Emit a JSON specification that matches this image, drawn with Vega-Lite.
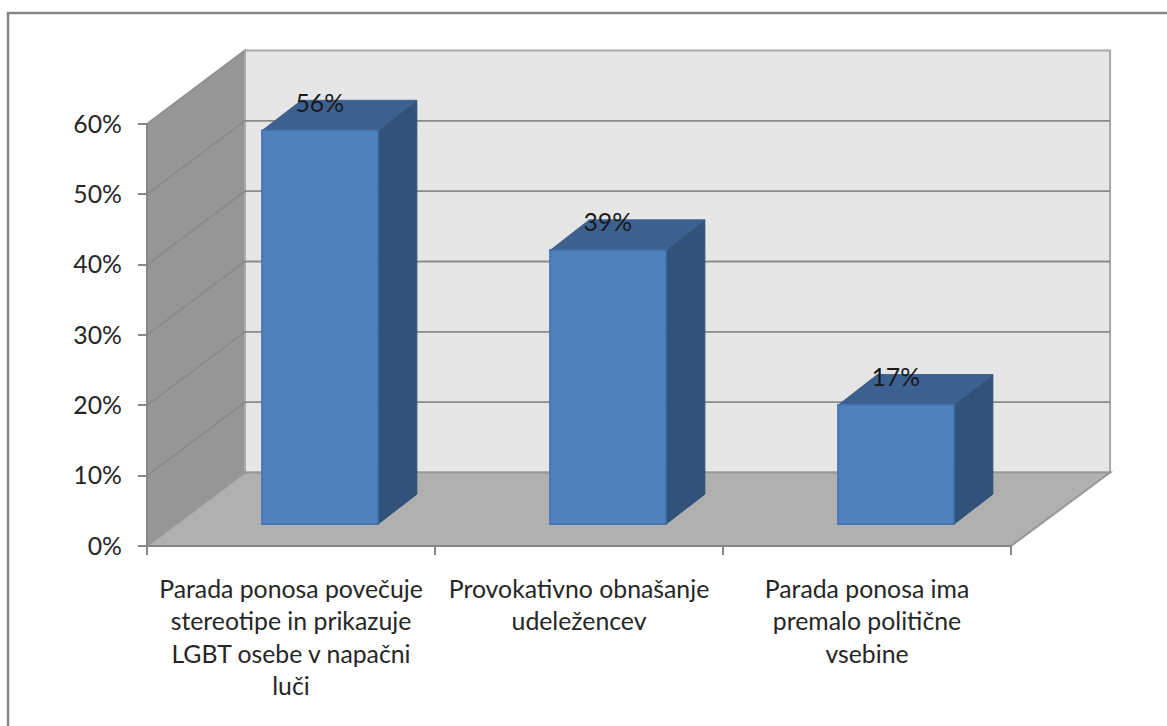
{"$schema":"https://vega.github.io/schema/vega-lite/v6.json","width":864,"height":422,"autosize":"none","padding":{"left":147,"top":124,"right":156,"bottom":180},"background":"white",
"config":{"view":{"stroke":null},"text":{"font":"Lato"}},
"datasets":{
"bars":[{"category":"Parada ponosa povečuje\nstereotipe in prikazuje\nLGBT osebe v napačni\nluči","value":0.56,"center":0.5,"left":0.399,"right":0.802,"mid":0.6,"base":0.031,"top":0.591},
{"category":"Provokativno obnašanje\nudeležencev","value":0.39,"center":1.5,"left":1.399,"right":1.802,"mid":1.6,"base":0.031,"top":0.421},
{"category":"Parada ponosa ima\npremalo politične\nvsebine","value":0.17,"center":2.5,"left":2.399,"right":2.802,"mid":2.6,"base":0.031,"top":0.201}],
"walls":[
{"part":"left","i":0,"x":0,"y":0},{"part":"left","i":1,"x":0.34,"y":0.1045},{"part":"left","i":2,"x":0.34,"y":0.7045},{"part":"left","i":3,"x":0,"y":0.6},{"part":"left","i":4,"x":0,"y":0},
{"part":"back","i":0,"x":0.34,"y":0.1045},{"part":"back","i":1,"x":3.344,"y":0.1045},{"part":"back","i":2,"x":3.344,"y":0.7045},{"part":"back","i":3,"x":0.34,"y":0.7045},{"part":"back","i":4,"x":0.34,"y":0.1045},
{"part":"floor","i":0,"x":0,"y":0},{"part":"floor","i":1,"x":3,"y":0},{"part":"floor","i":2,"x":3.344,"y":0.1045},{"part":"floor","i":3,"x":0.34,"y":0.1045},{"part":"floor","i":4,"x":0,"y":0}],
"grid":[
{"v":"10","i":0,"x":0,"y":0.1},{"v":"10","i":1,"x":0.34,"y":0.2045},{"v":"10","i":2,"x":3.344,"y":0.2045},
{"v":"20","i":0,"x":0,"y":0.2},{"v":"20","i":1,"x":0.34,"y":0.3045},{"v":"20","i":2,"x":3.344,"y":0.3045},
{"v":"30","i":0,"x":0,"y":0.3},{"v":"30","i":1,"x":0.34,"y":0.4045},{"v":"30","i":2,"x":3.344,"y":0.4045},
{"v":"40","i":0,"x":0,"y":0.4},{"v":"40","i":1,"x":0.34,"y":0.5045},{"v":"40","i":2,"x":3.344,"y":0.5045},
{"v":"50","i":0,"x":0,"y":0.5},{"v":"50","i":1,"x":0.34,"y":0.6045},{"v":"50","i":2,"x":3.344,"y":0.6045}],
"faces":[
{"face":"side1","part":"side","i":0,"x":0.802,"y":0.031},{"face":"side1","part":"side","i":1,"x":0.937,"y":0.0737},{"face":"side1","part":"side","i":2,"x":0.937,"y":0.6337},{"face":"side1","part":"side","i":3,"x":0.802,"y":0.591},
{"face":"top1","part":"top","i":0,"x":0.399,"y":0.591},{"face":"top1","part":"top","i":1,"x":0.802,"y":0.591},{"face":"top1","part":"top","i":2,"x":0.937,"y":0.6337},{"face":"top1","part":"top","i":3,"x":0.534,"y":0.6337},
{"face":"side2","part":"side","i":0,"x":1.802,"y":0.031},{"face":"side2","part":"side","i":1,"x":1.937,"y":0.0737},{"face":"side2","part":"side","i":2,"x":1.937,"y":0.4637},{"face":"side2","part":"side","i":3,"x":1.802,"y":0.421},
{"face":"top2","part":"top","i":0,"x":1.399,"y":0.421},{"face":"top2","part":"top","i":1,"x":1.802,"y":0.421},{"face":"top2","part":"top","i":2,"x":1.937,"y":0.4637},{"face":"top2","part":"top","i":3,"x":1.534,"y":0.4637},
{"face":"side3","part":"side","i":0,"x":2.802,"y":0.031},{"face":"side3","part":"side","i":1,"x":2.937,"y":0.0737},{"face":"side3","part":"side","i":2,"x":2.937,"y":0.2437},{"face":"side3","part":"side","i":3,"x":2.802,"y":0.201},
{"face":"top3","part":"top","i":0,"x":2.399,"y":0.201},{"face":"top3","part":"top","i":1,"x":2.802,"y":0.201},{"face":"top3","part":"top","i":2,"x":2.937,"y":0.2437},{"face":"top3","part":"top","i":3,"x":2.534,"y":0.2437}],
"frame":[{"i":0,"x":-0.4826,"y":-0.256},{"i":1,"x":-0.4826,"y":0.7578},{"i":2,"x":3.542,"y":0.7578}]
},
"layer":[
{"data":{"name":"walls"},"mark":{"type":"line","strokeWidth":2},"encoding":{
"x":{"field":"x","type":"quantitative","scale":{"domain":[0,3],"nice":false,"zero":false},"axis":{"values":[0,1,2,3],"labels":false,"title":null,"grid":false,"tickSize":9,"tickWidth":2,"tickColor":"#868686","domainColor":"#868686","domainWidth":2,"zindex":1,"translate":0}},
"y":{"field":"y","type":"quantitative","scale":{"domain":[0,0.6],"nice":false,"zero":false},"axis":{"values":[0,0.1,0.2,0.3,0.4,0.5,0.6],"format":".0%","title":null,"grid":false,"tickSize":9,"tickWidth":2,"tickColor":"#868686","domainColor":"#868686","domainWidth":2,"labelFont":"Lato","labelFontSize":24.8,"labelColor":"#262626","labelPadding":16,"labelOffset":1.5,"zindex":1,"translate":0}},
"order":{"field":"i","type":"quantitative"},
"fill":{"field":"part","type":"nominal","scale":{"domain":["left","back","floor","side","top"],"range":["#969696","#e6e6e6","#b0b0b0","#315279","#3c6190"]},"legend":null},
"stroke":{"field":"part","type":"nominal","scale":{"domain":["left","back","floor","side","top"],"range":["#909090","#a8a8a8","#989898","#315279","#3c6190"]},"legend":null}}},
{"data":{"name":"grid"},"mark":{"type":"line","strokeWidth":1.8,"stroke":"#8a8a8a"},"encoding":{"x":{"field":"x","type":"quantitative"},"y":{"field":"y","type":"quantitative"},"order":{"field":"i","type":"quantitative"},"detail":{"field":"v"}}},
{"data":{"name":"faces"},"mark":{"type":"line","strokeWidth":1},"encoding":{"x":{"field":"x","type":"quantitative"},"y":{"field":"y","type":"quantitative"},"order":{"field":"i","type":"quantitative"},"detail":{"field":"face"},
"fill":{"field":"part","type":"nominal","legend":null},
"stroke":{"field":"part","type":"nominal","legend":null}}},
{"data":{"name":"bars"},"mark":{"type":"rect","fill":"#4f81bd","stroke":"#4272ad","strokeWidth":1.5},"encoding":{"x":{"field":"left","type":"quantitative"},"x2":{"field":"right"},"y":{"field":"top","type":"quantitative"},"y2":{"field":"base"}}},
{"data":{"name":"bars"},"mark":{"type":"text","font":"Lato","fontSize":24.8,"color":"#1a1a1a","dy":-25.5,"align":"center","baseline":"middle"},"encoding":{"x":{"field":"mid","type":"quantitative"},"y":{"field":"top","type":"quantitative"},"text":{"field":"value","type":"quantitative","format":".0%"}}},
{"data":{"name":"bars"},"mark":{"type":"text","font":"Lato","fontSize":24.8,"color":"#262626","dy":44.5,"align":"center","baseline":"middle","lineBreak":"\n","lineHeight":32.5},"encoding":{"x":{"field":"center","type":"quantitative"},"y":{"datum":0,"type":"quantitative"},"text":{"field":"category"}}},
{"data":{"name":"frame"},"mark":{"type":"line","stroke":"#868686","strokeWidth":2.5},"encoding":{"x":{"field":"x","type":"quantitative"},"y":{"field":"y","type":"quantitative"},"order":{"field":"i","type":"quantitative"}}}
]}
